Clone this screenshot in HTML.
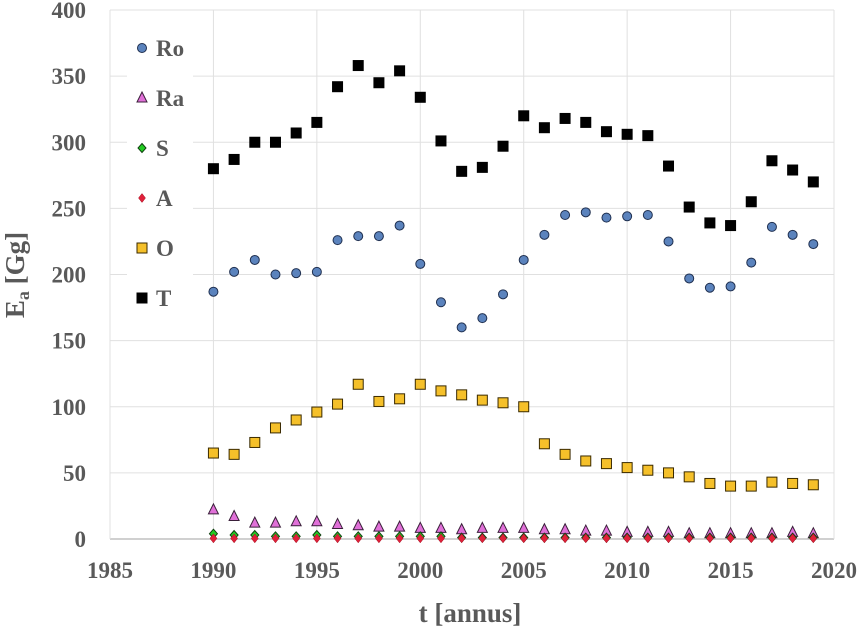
<!DOCTYPE html>
<html><head><meta charset="utf-8"><style>
body{margin:0;background:#fff}
svg text{font-family:"Liberation Serif",serif;font-weight:bold;fill:#595959}
</style></head><body>
<svg id="chart" width="860" height="630" viewBox="0 0 860 630" xmlns="http://www.w3.org/2000/svg">
<g id="grid"></g>
<g id="ticks"></g>
<g id="marks"></g>
<rect x="127" y="20" width="66" height="290" fill="#fff"/>
<g id="legend"></g>
<text x="470" y="622" text-anchor="middle" font-size="27">t [annus]</text>
<text transform="translate(24,275) rotate(-90)" text-anchor="middle" font-size="27">E<tspan font-size="18" dy="5">a</tspan><tspan dy="-5"> [Gg]</tspan></text>
</svg>
<script>
const years=[1990,1991,1992,1993,1994,1995,1996,1997,1998,1999,2000,2001,2002,2003,2004,2005,2006,2007,2008,2009,2010,2011,2012,2013,2014,2015,2016,2017,2018,2019];
const seriesT=[280,287,300,300,307,315,342,358,345,354,334,301,278,281,297,320,311,318,315,308,306,305,282,251,239,237,255,286,279,270];
const seriesRo=[187,202,211,200,201,202,226,229,229,237,208,179,160,167,185,211,230,245,247,243,244,245,225,197,190,191,209,236,230,223];
const seriesO=[65,64,73,84,90,96,102,117,104,106,117,112,109,105,103,100,72,64,59,57,54,52,50,47,42,40,40,43,42,41];
const seriesRa=[22,17,12,12,13,13,11,10,9,9,8,8,7,8,8,8,7,7,6,6,5,5,5,4,4,4,4,4,5,4];
const seriesS=[4,3,3,2,2,3,2,2,2,2,2,2,1,1,1,1,1,1,1,1,1,1,1,1,1,1,1,1,1,1];
const seriesA=[0.5,0.5,0.5,0.5,0.5,0.5,0.5,0.5,0.5,0.5,0.5,0.5,0.5,0.5,0.5,0.5,0.5,0.5,0.5,0.5,0.5,0.5,0.5,0.5,0.5,0.5,0.5,0.5,0.5,0.5];
const xTicks=[1985,1990,1995,2000,2005,2010,2015,2020];
const yTicks=[0,50,100,150,200,250,300,350,400];
const legendLabels=["Ro","Ra","S","A","O","T"];
const NS="http://www.w3.org/2000/svg";
const X0=110,X1=834,Y0=539,Y1=10;
const xs=v=>X0+(v-1985)/35*(X1-X0);
const ys=v=>Y0-v/400*(Y0-Y1);
function mk(tag,at,parent){const e=document.createElementNS(NS,tag);for(const k in at)e.setAttribute(k,at[k]);parent.appendChild(e);return e;}
const grid=document.getElementById('grid'),ticks=document.getElementById('ticks'),marks=document.getElementById('marks'),legend=document.getElementById('legend');
yTicks.forEach(t=>{
 const l=mk('line',{x1:X0,x2:X1,y1:ys(t),y2:ys(t),stroke:t===0?'#d0d0d0':'#e0e0e0','stroke-width':t===0?2:1},grid);
 
 
 const tx=mk('text',{x:86,y:ys(t)+8,'text-anchor':'end','font-size':23},ticks);tx.textContent=t;
 
 
});
xTicks.forEach(t=>{
 const l=mk('line',{x1:xs(t),x2:xs(t),y1:Y1,y2:Y0,stroke:'#e0e0e0','stroke-width':1},grid);
 
 
 const tx=mk('text',{x:xs(t),y:578,'text-anchor':'middle','font-size':23},ticks);tx.textContent=t;
 
 
});
function marker(type,x,y,parent){
 let e;
 if(type==='Ro')e=mk('circle',{cx:x,cy:y,r:4.5,fill:'#5b83bd',stroke:'#1f2f4f','stroke-width':1},parent);
 else if(type==='Ra')e=mk('polygon',{points:`${x},${y-6} ${x+5},${y+4} ${x-5},${y+4}`,fill:'#e070d8',stroke:'#3a203a','stroke-width':1},parent);
 else if(type==='S')e=mk('polygon',{points:`${x},${y-4.5} ${x+4},${y} ${x},${y+4.5} ${x-4},${y}`,fill:'#22cc22',stroke:'#104010','stroke-width':1},parent);
 else if(type==='A')e=mk('polygon',{points:`${x},${y-4.5} ${x+3.5},${y} ${x},${y+4.5} ${x-3.5},${y}`,fill:'#e0203a','stroke':'#a01020','stroke-width':0.5},parent);
 else if(type==='O')e=mk('rect',{x:x-5,y:y-5,width:10,height:10,fill:'#f5c02a',stroke:'#3a2a00','stroke-width':1},parent);
 else e=mk('rect',{x:x-5.5,y:y-5.5,width:11,height:11,fill:'#000'},parent);
 return e;
}
const all={Ro:seriesRo,Ra:seriesRa,S:seriesS,A:seriesA,O:seriesO,T:seriesT};
["O","T","Ro","Ra","S","A"].forEach(k=>{
 all[k].forEach((v,i)=>{
  const e=marker(k,xs(years[i]),ys(v),marks);
  
  
 });
});
legendLabels.forEach((k,i)=>{
 const y=48+i*50;
 const e=marker(k,142,y,legend);
 
 
 const t=mk('text',{x:156,y:y+8,'font-size':23},legend);t.textContent=k;
 
 
});
</script>
</body></html>
